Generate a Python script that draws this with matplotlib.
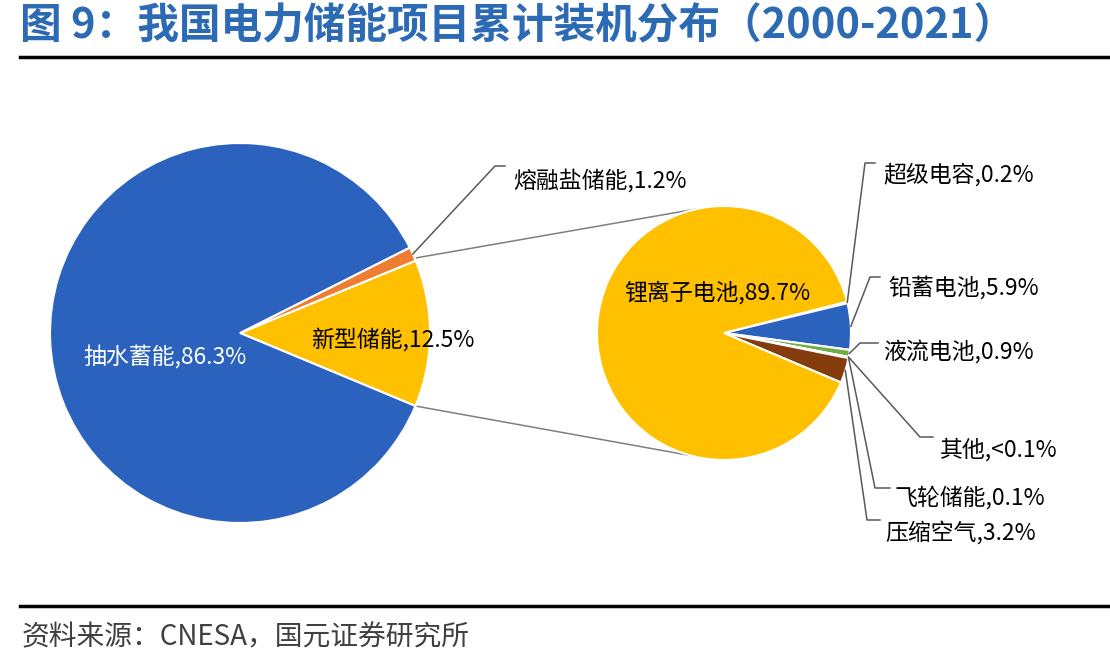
import numpy as np
import matplotlib.pyplot as plt

plt.rcParams['font.family'] = ['Noto Sans CJK SC', 'DejaVu Sans']

# data
left_names = ['新型储能', '熔融盐储能', '抽水蓄能']
left_values = [12.5, 1.2, 86.3]
left_colors = ['#FFC000', '#ED7D31', '#2A62BE']

right_names = ['超级电容', '铅蓄电池', '液流电池', '其他', '飞轮储能', '压缩空气', '锂离子电池']
right_values = [0.2, 5.9, 0.9, 0.05, 0.1, 3.2, 89.7]
right_text = ['0.2', '5.9', '0.9', '<0.1', '0.1', '3.2', '89.7']
right_colors = ['#A5A5A5', '#2A62BE', '#70AD47', '#264478', '#9E480E', '#843C0C', '#FFC000']

W, H = 1110, 672


def py(y):
    # pixel row -> data y
    return H - y


fig = plt.figure(figsize=(W / 100, H / 100), dpi=100)
ax = fig.add_axes([0, 0, 1, 1])

lc, lr = (240, py(333)), 190
rc, rr = (724, py(333)), 127

wl, _ = ax.pie(left_values, colors=left_colors, startangle=-22.6, counterclock=True,
               center=lc, radius=lr, wedgeprops=dict(edgecolor='white', linewidth=1.5))
wr, _ = ax.pie(right_values, colors=right_colors, startangle=14.3, counterclock=False,
               center=rc, radius=rr, wedgeprops=dict(edgecolor='white', linewidth=1.5))


def on_circle(c, r, ang):
    a = np.deg2rad(ang)
    return c[0] + r * np.cos(a), c[1] + r * np.sin(a)


# connector lines between the two pies
p1 = on_circle(lc, lr, wl[0].theta2 + 0.8)
p2 = on_circle(rc, rr, 102)
p3 = on_circle(lc, lr, wl[0].theta1)
p4 = on_circle(rc, rr, -105)
ax.plot([p1[0], p2[0]], [p1[1], p2[1]], color='#7F7F7F', lw=1.1, zorder=0)
ax.plot([p3[0], p4[0]], [p3[1], p4[1]], color='#7F7F7F', lw=1.1, zorder=0)

fs = 16.5
# labels inside the pies
ax.text(165, py(357), f'{left_names[2]},{left_values[2]}%', color='white', fontsize=fs,
        ha='center', va='center')
ax.text(393, py(340), f'{left_names[0]},{left_values[0]}%', color='black', fontsize=fs,
        ha='center', va='center')
ax.text(717, py(293), f'{right_names[6]},{right_text[6]}%', color='black', fontsize=fs,
        ha='center', va='center')


def leader(c, r, w, elbow, hend, text_xy, label):
    mid = (w.theta1 + w.theta2) / 2
    p = on_circle(c, r, mid)
    ax.plot([p[0], elbow[0], hend], [p[1], py(elbow[1]), py(elbow[1])],
            color='#595959', lw=1.1)
    ax.text(text_xy[0], py(text_xy[1]), label, fontsize=fs, ha='left', va='center')


leader(lc, lr, wl[1], (495, 166), 505, (513, 181), f'{left_names[1]},{left_values[1]}%')

# leader layouts for the small slices of the right pie
elbows = [(865, 163), (870, 277), (860, 343), (920, 437), (875, 488), (867, 520)]
hends = [875, 880, 878, 933, 890, 880]
text_pos = [(883, 175), (888, 288), (883, 352), (940, 450), (894, 498), (885, 533)]
for i in range(6):
    leader(rc, rr, wr[i], elbows[i], hends[i], text_pos[i],
           f'{right_names[i]},{right_text[i]}%')

# title, rules and source
ax.text(20, py(26), '图 9：我国电力储能项目累计装机分布（2000-2021）', color='#2C6AB4',
        fontsize=30, fontweight='bold', ha='left', va='center')
ax.plot([20, W], [py(57), py(57)], color='black', lw=2.5)
ax.plot([20, W], [py(606), py(606)], color='black', lw=2.5)
ax.text(22, py(637), '资料来源：CNESA，国元证券研究所', color='#404040', fontsize=20,
        ha='left', va='center')

ax.set_xlim(0, W)
ax.set_ylim(0, H)
ax.set_aspect('equal')
ax.axis('off')

fig.savefig('out.png', dpi=100)
